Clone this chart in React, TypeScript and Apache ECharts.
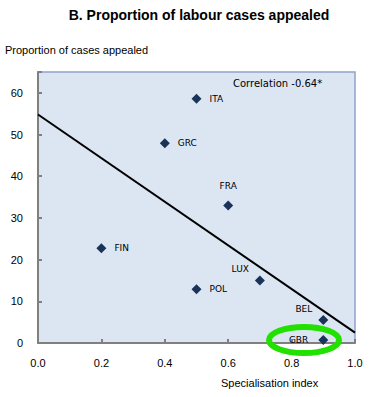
import React, { useEffect, useRef } from "react";
import * as echarts from "echarts";

const countries = ["ITA", "GRC", "FRA", "FIN", "LUX", "POL", "BEL", "GBR"];
const specialisation = [0.5, 0.4, 0.6, 0.2, 0.7, 0.5, 0.9, 0.9];
const appealed = [58.6, 47.9, 33.0, 22.7, 15.0, 12.9, 5.5, 0.7];
const labelPos = ["right", "right", "top", "right", "topLeft", "right", "topLeft", "left"];
const trendX = [0, 1];
const trendY = [54.8, 2.5];
const xTicks = [0, 0.2, 0.4, 0.6, 0.8, 1.0];
const yTicks = [0, 10, 20, 30, 40, 50, 60];

export default function App() {
  const ref = useRef<HTMLDivElement>(null);
  useEffect(() => {
    const chart = echarts.init(ref.current!, null, { renderer: "svg" });
    const font = "Arial, 'Liberation Sans', sans-serif";
    const data = countries.map((c, i) => {
      const p = labelPos[i];
      let label: any = { position: "right", distance: 8 };
      if (p === "top") label = { position: "top", distance: 10 };
      if (p === "topLeft") label = { position: "left", offset: [-2, -11], distance: 4 };
      if (p === "left") label = { position: "left", distance: 10 };
      return { value: [specialisation[i], appealed[i]], name: c, label };
    });
    chart.setOption({
      animation: false,
      textStyle: { fontFamily: font },
      title: {
        text: "B. Proportion of labour cases appealed",
        left: 194,
        textAlign: "center",
        top: 3,
        textStyle: { fontSize: 14, fontWeight: "bold", color: "#000", fontFamily: font },
      },
      grid: {
        left: 38,
        top: 72,
        right: 16,
        bottom: 54,
        show: true,
        backgroundColor: "#dce6f2",
        borderColor: "#8fa3cc",
        borderWidth: 1.5,
      },
      xAxis: {
        type: "value",
        min: 0,
        max: 1,
        interval: 0.2,
        axisLine: { show: true, onZero: false, lineStyle: { color: "#808080", width: 2 } },
        axisTick: { show: true, inside: true, length: 4, lineStyle: { color: "#808080", width: 2 } },
        splitLine: { show: false },
        axisLabel: {
          fontSize: 11,
          color: "#000",
          margin: 14,
          formatter: (v: number) => (xTicks.includes(Math.round(v * 10) / 10) ? v.toFixed(1) : ""),
        },
      },
      yAxis: {
        type: "value",
        min: 0,
        max: 65,
        interval: 10,
        axisLine: { show: true, lineStyle: { color: "#808080", width: 2 } },
        axisTick: { show: true, inside: true, length: 4, lineStyle: { color: "#808080", width: 2 } },
        splitLine: { show: false },
        axisLabel: {
          fontSize: 11,
          color: "#000",
          margin: 15,
          formatter: (v: number) => (yTicks.includes(v) ? String(v) : ""),
        },
      },
      series: [
        {
          type: "line",
          data: trendX.map((x, i) => [x, trendY[i]]),
          showSymbol: false,
          symbol: "none",
          lineStyle: { color: "#000", width: 2 },
          z: 2,
          silent: true,
        },
        {
          type: "scatter",
          data,
          symbol: "diamond",
          symbolSize: 10,
          itemStyle: { color: "#1a3358", opacity: 1 },
          label: {
            show: true,
            formatter: "{b}",
            fontSize: 9,
            color: "#000",
            fontFamily: "'DejaVu Sans', sans-serif",
          },
          z: 3,
        },
      ],
      graphic: [
        {
          type: "text",
          left: 5,
          top: 44,
          style: { text: "Proportion of cases appealed", font: "11px Arial, 'Liberation Sans', sans-serif", fill: "#000" },
        },
        {
          type: "text",
          left: 221,
          top: 377,
          style: { text: "Specialisation index", font: "11px Arial, 'Liberation Sans', sans-serif", fill: "#000" },
        },
        {
          type: "text",
          left: 233,
          top: 78,
          style: { text: "Correlation -0.64*", font: "10px 'DejaVu Sans', sans-serif", fill: "#000" },
        },
        {
          type: "ellipse",
          shape: { cx: 304, cy: 340, rx: 35, ry: 13 },
          style: { fill: "none", stroke: "#22e000", lineWidth: 6 },
          z: 10,
        },
      ],
    });
    return () => chart.dispose();
  }, []);
  return <div ref={ref} style={{ position: "absolute", left: 0, top: 0, width: 371, height: 397 }} />;
}
